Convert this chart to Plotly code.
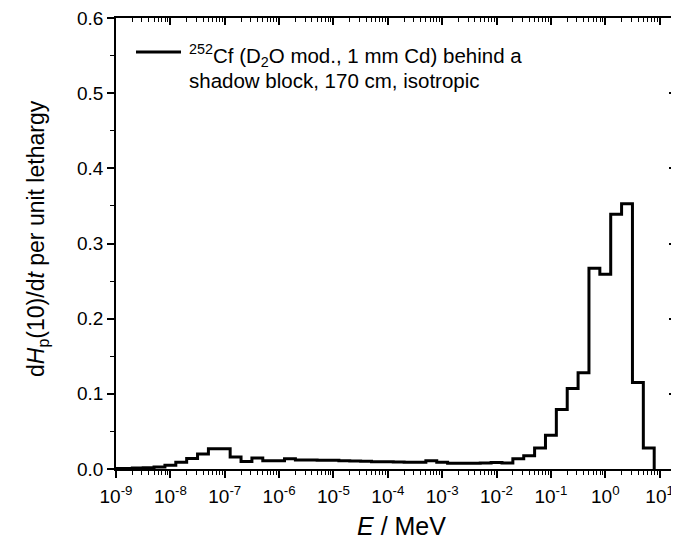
import numpy as np
import plotly.graph_objects as go

# bin centres as log10(E / MeV); bins are 0.2 decade wide
log_centres = [round(-9.0 + 0.2 * k, 1) for k in range(50)]
values = [0.0005, 0.0008, 0.0012, 0.0018, 0.0027, 0.005, 0.009, 0.014, 0.020, 0.027,
          0.027, 0.016, 0.010, 0.0146, 0.011, 0.011, 0.0137, 0.012, 0.012, 0.0118,
          0.0115, 0.011, 0.0105, 0.0102, 0.0098, 0.0095, 0.0092, 0.009, 0.009, 0.011,
          0.009, 0.0078, 0.0075, 0.0075, 0.008, 0.0085, 0.008, 0.0137, 0.0177, 0.028,
          0.045, 0.079, 0.107, 0.128, 0.267, 0.259, 0.339, 0.353, 0.115, 0.028]
bin_halfwidth = 0.1

x_tick_exps = list(range(-9, 2))
y_ticks = [0.0, 0.1, 0.2, 0.3, 0.4, 0.5, 0.6]

legend_line1 = "<sup>252</sup>Cf (D<sub>2</sub>O mod., 1 mm Cd) behind a"
legend_line2 = "shadow block, 170 cm, isotropic"
x_title = "<i>E</i> / MeV"
y_title = "d<i>H</i><sub>p</sub>(10)/d<i>t</i> per unit lethargy"

left_edges = [10 ** (c - bin_halfwidth) for c in log_centres]
last_edge = 10 ** (log_centres[-1] + bin_halfwidth)
xs = left_edges + [last_edge]
ys = values + [0.0]

FONT = "Arial, Liberation Sans, sans-serif"
OFF = 8  # default page body margin
# target plot box in window pixels
BOX_L, BOX_R, BOX_T, BOX_B = 116, 676, 18, 469
W, H = 679 - OFF, 541 - OFF
L, T = BOX_L - OFF, BOX_T - OFF
R = W - (BOX_R - OFF)
B = H - (BOX_B - OFF)


def px_x(sx):
    return (sx - BOX_L) / (BOX_R - BOX_L)


def px_y(sy):
    return (BOX_B - sy) / (BOX_B - BOX_T)


fig = go.Figure()
fig.add_trace(go.Scatter(x=xs, y=ys, mode="lines", line=dict(color="black", width=3, shape="hv"),
                         name=legend_line1 + " " + legend_line2, showlegend=False))
# dummy trace for mirrored axes
fig.add_trace(go.Scatter(x=[1e-9], y=[0], xaxis="x2", yaxis="y2", mode="markers",
                         marker=dict(opacity=0), showlegend=False, hoverinfo="skip"))

xrange = [-9, np.log10(20)]
minor_x = [m * 10.0 ** e for e in range(-9, 2) for m in range(2, 10) if m * 10.0 ** e <= 20]

fig.update_layout(
    width=W, height=H,
    margin=dict(l=L, r=R, t=T, b=B, pad=0, autoexpand=False),
    paper_bgcolor="white", plot_bgcolor="white",
    font=dict(family=FONT, size=19, color="black"),
    showlegend=False,
    xaxis=dict(type="log", range=xrange, showline=True, linecolor="black", linewidth=1.5,
               automargin=False, ticklabeloverflow="allow",
               ticks="outside", ticklen=7, tickwidth=1.5, tickcolor="black",
               tickvals=[10.0 ** e for e in x_tick_exps],
               ticktext=[f"10<sup>{e}</sup>" for e in x_tick_exps],
               tickfont=dict(size=19), ticklabelstandoff=2,
               minor=dict(tickvals=minor_x, ticks="outside", ticklen=4, tickwidth=1, tickcolor="black"),
               showgrid=False, zeroline=False),
    xaxis2=dict(type="log", range=xrange, overlaying="x", side="top", showline=True,
                automargin=False,
                linecolor="black", linewidth=1.5, ticks="inside", ticklen=7, tickwidth=1.5,
                tickcolor="black", tickvals=[10.0 ** e for e in x_tick_exps], showticklabels=False,
                minor=dict(tickvals=minor_x, ticks="inside", ticklen=4, tickwidth=1, tickcolor="black"),
                showgrid=False, zeroline=False),
    yaxis=dict(range=[0, 0.6], showline=True, linecolor="black", linewidth=1.5,
               automargin=False, ticklabeloverflow="allow",
               ticks="outside", ticklen=7, tickwidth=1.5, tickcolor="black",
               tickvals=y_ticks, tickformat=".1f", tickfont=dict(size=19),
               minor=dict(dtick=0.05, ticks="outside", ticklen=4, tickwidth=1, tickcolor="black"),
               showgrid=False, zeroline=False),
    yaxis2=dict(range=[0, 0.6], overlaying="y", side="right", showline=True, linecolor="black",
                automargin=False,
                linewidth=1.5, ticks="inside", ticklen=7, tickwidth=1.5, tickcolor="black",
                tickvals=y_ticks, showticklabels=False,
                minor=dict(dtick=0.05, ticks="inside", ticklen=4, tickwidth=1, tickcolor="black"),
                showgrid=False, zeroline=False),
    shapes=[
        # legend key line
        dict(type="line", xref="paper", yref="paper", x0=px_x(136), x1=px_x(181),
             y0=px_y(52), y1=px_y(52), line=dict(color="black", width=3)),
    ],
    annotations=[
        dict(text=legend_line1, xref="paper", yref="paper", x=px_x(187), y=px_y(56),
             xanchor="left", yanchor="middle", showarrow=False, font=dict(size=20.5, family=FONT)),
        dict(text=legend_line2, xref="paper", yref="paper", x=px_x(187), y=px_y(81),
             xanchor="left", yanchor="middle", showarrow=False, font=dict(size=20.5, family=FONT)),
        dict(text=x_title, xref="paper", yref="paper", x=px_x(401), y=px_y(526),
             xanchor="center", yanchor="middle", showarrow=False, font=dict(size=25, family=FONT)),
        dict(text=y_title, xref="paper", yref="paper", x=px_x(37), y=px_y(239),
             xanchor="center", yanchor="middle", showarrow=False, textangle=-90,
             font=dict(size=23, family=FONT)),
    ],
)

fig.write_html("out.html")
